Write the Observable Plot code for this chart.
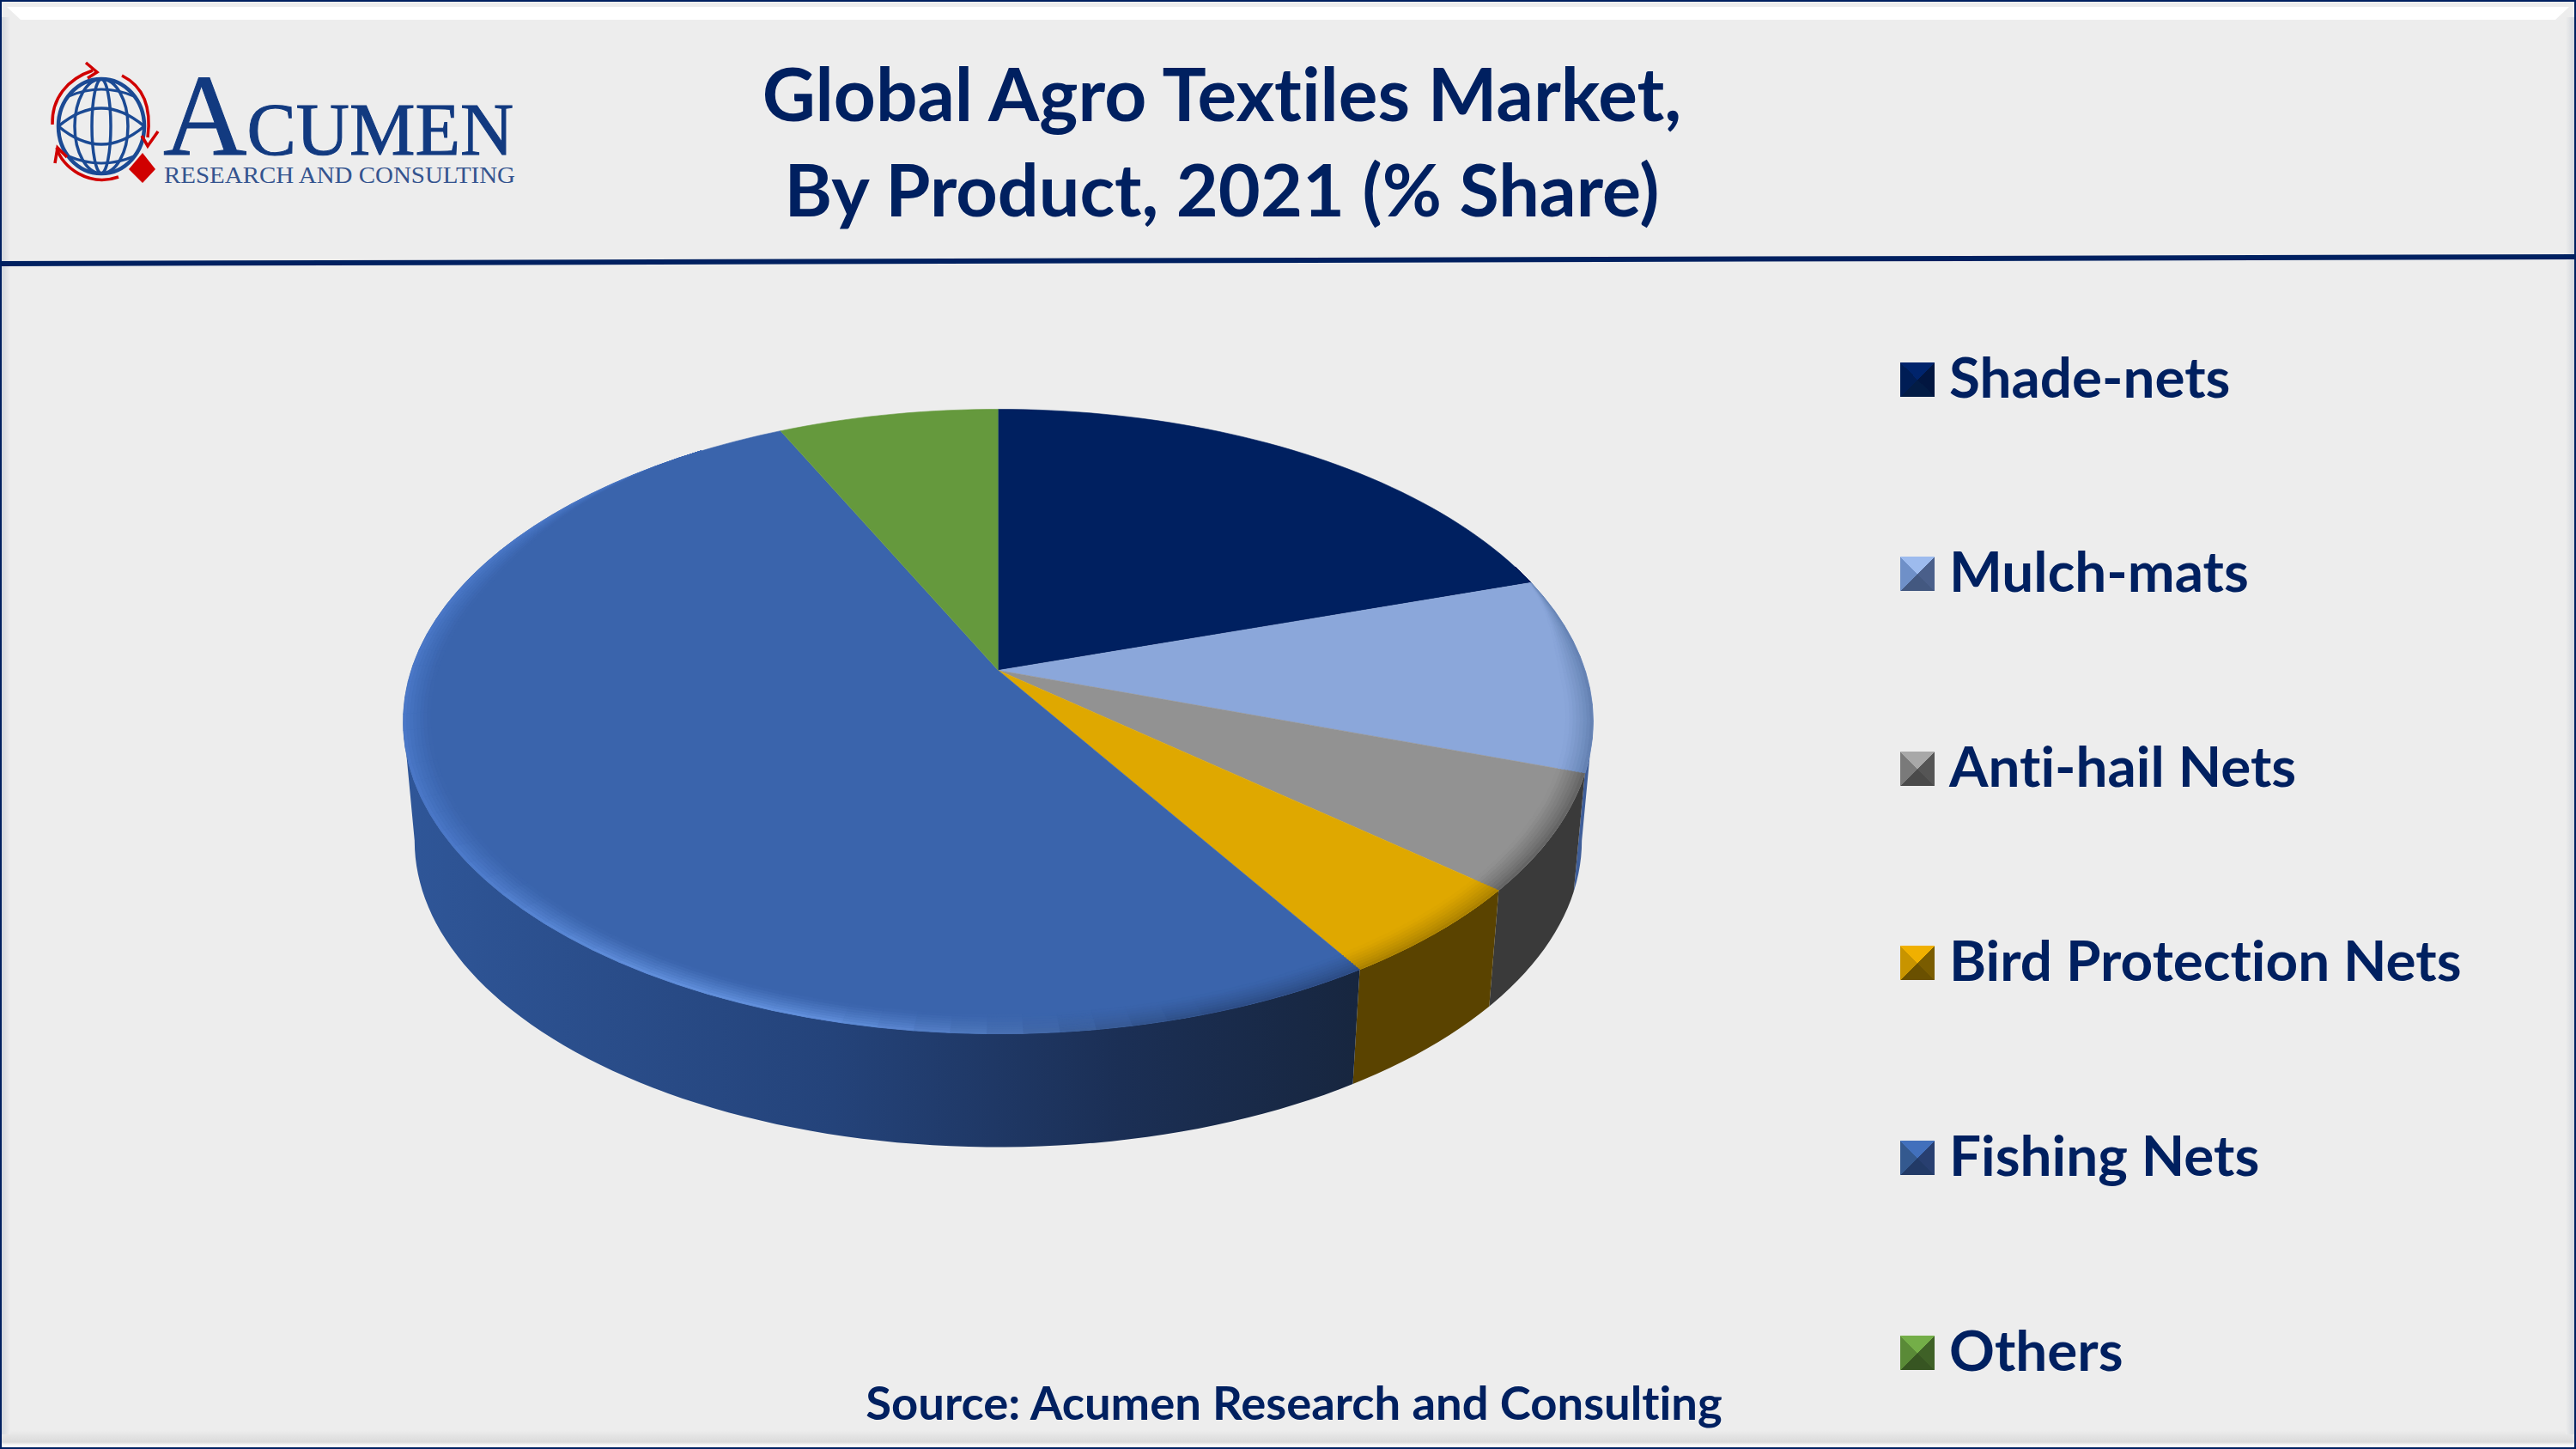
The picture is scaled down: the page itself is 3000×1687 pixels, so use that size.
<!DOCTYPE html>
<html><head><meta charset="utf-8">
<script src="https://cdn.jsdelivr.net/npm/d3@7"></script>
<script src="https://cdn.jsdelivr.net/npm/@observablehq/plot@0.6"></script>
<style>
html,body{margin:0;padding:0;background:#EDEDED;}
#page{position:relative;width:3000px;height:1687px;overflow:hidden;background:#EDEDED;font-family:Lato,sans-serif;color:#002060;font-weight:700;font-variant-ligatures:none;}
#page>*{position:absolute;}
.title{left:823px;width:1200px;text-align:center;font-size:85.5px;line-height:111px;top:53px;}
.title span{font-size:84.5px;}
.source{left:907px;width:1200px;text-align:center;font-size:54.4px;top:1599px;white-space:nowrap;}
.lg{left:2270px;font-size:65.6px;line-height:80px;white-space:nowrap;}
.sw{left:2213px;width:40px;height:40px;box-sizing:border-box;}
</style></head><body><div id="page">
<svg id="chrome" width="3000" height="1687" style="left:0;top:0">
<defs>
<linearGradient id="bot" x1="0" x2="0" y1="0" y2="1"><stop offset="0" stop-color="#EDEDED"/><stop offset=".7" stop-color="#DADADA"/><stop offset=".85" stop-color="#F5F5F5"/><stop offset="1" stop-color="#FFFFFF"/></linearGradient>
<linearGradient id="lft" x1="0" x2="1" y1="0" y2="0"><stop offset="0" stop-color="#D2D6DC"/><stop offset="1" stop-color="#EDEDED"/></linearGradient>
<linearGradient id="rgt" x1="1" x2="0" y1="0" y2="0"><stop offset="0" stop-color="#D2D6DC"/><stop offset="1" stop-color="#EDEDED"/></linearGradient>
</defs>
<polygon points="8,8 2992,8 2976,23 24,23" fill="#FFFFFF"/>
<rect x="0" y="1665" width="3000" height="20" fill="url(#bot)"/>
<rect x="2" y="20" width="10" height="1650" fill="url(#lft)"/>
<rect x="2988" y="20" width="10" height="1650" fill="url(#rgt)"/>
<rect x="1" y="1" width="2998" height="1685" fill="none" stroke="#002060" stroke-width="2"/>
<line x1="0" y1="307" x2="3000" y2="299" stroke="#002060" stroke-width="6"/>
<g fill="none" stroke="#1B4A94">
<ellipse cx="118" cy="147" rx="50" ry="55" stroke-width="4.5"/>
<ellipse cx="118" cy="147" rx="31" ry="55" stroke-width="3.5"/>
<ellipse cx="118" cy="147" rx="11" ry="55" stroke-width="3.5"/>
<path d="M68 147Q118 105 168 147M68 147Q118 189 168 147" stroke-width="3.5"/>
<path d="M80 112Q118 96 156 112M80 182Q118 198 156 182" stroke-width="3"/>
</g>
<g fill="none" stroke="#D00000" stroke-width="3.5">
<path d="M61 145C60 115 78 92 108 82"/><path d="M100 73L113 84L102 91"/>
<path d="M142 88C170 102 176 130 172 160"/><path d="M184 153L172 170L165 158"/>
<path d="M66 172C72 195 104 218 138 206"/><path d="M64 190L67 172L78 183"/>
</g>
<polygon points="166,178 181,197 166,213 150,197" fill="#D00000"/>
<g font-family="'Liberation Serif',serif" fill="#123A80" font-weight="400">
<text x="190" y="180" stroke="#123A80" stroke-width="1"><tspan font-size="135">A</tspan><tspan font-size="86">CUMEN</tspan></text>
<text x="191" y="213" font-size="27" fill="#34548F" textLength="409" lengthAdjust="spacingAndGlyphs">RESEARCH AND CONSULTING</text>
</g>
</svg>
<div class="title">Global Agro Textiles Market,<br><span>By Product, 2021 (% Share)</span></div>
<div class="source">Source: Acumen Research and Consulting</div>
</div>
<script>
// ---- chart values (percent share) ----
const categories = ["Shade-nets","Mulch-mats","Anti-hail Nets","Bird Protection Nets","Fishing Nets","Others"];
const shares     = [20.1, 10.1, 6.0, 4.9, 51.9, 7.0];
const faceColors = ["#002060","#8BA7DA","#929292","#DFA800","#3A64AC","#65993D"];
const sideColors = ["#001440","#3F5E99","#3A3A3A","#5A4300","url(#fishSide)","#3E5F26"];
const rimColors  = ["#002060","#5F7DAD","#5E5E5E","#A57D00","#2B4A80","#65993D"];
const swatchTop  = ["#00246C","#9DBBEE","#A8A8A8","#F0B000","#4270BC","#74AE48"];
const swatchLeft = ["#001D55","#6F90C8","#7A7A7A","#C89400","#34598F","#5A8A37"];
const swatchRight= ["#021640","#4A5F8A","#555555","#7A5C00","#283F70","#3F6127"];
const swatchBot  = ["#031C45","#435880","#4A4A4A","#6A5000","#223A66","#375522"];
const legendMid  = [442,668,895,1121,1348,1575];

// ---- projection of the tilted disc ----
const cx = 1162, ay = 780, A = 683.5, B = 353.8, k = 0.1637;
const sBottom = 0.981, ayBottom = 920;
const rad = a => a * Math.PI / 180;
function topPt(t, r = 1) {
  const x = r * Math.sin(rad(t)), y = -r * Math.cos(rad(t));
  const d = 1 - k * y;
  return [cx + A * x / d, ay + B * y / d];
}
function botPt(t) {
  const [X, Y] = topPt(t);
  return [cx + (X - cx) * sBottom, ayBottom + (Y - ay) * sBottom];
}
const total = d3.sum(shares);
let acc = 0;
const slices = categories.map((c, i) => {
  const t0 = acc / total * 360; acc += shares[i];
  return {c, i, t0, t1: acc / total * 360};
});
function range(a, b, step = 1.5) {
  const out = d3.range(a, b, step); out.push(b); return out;
}
const smooth = (a, b, x) => { const u = Math.max(0, Math.min(1, (x - a) / (b - a))); return u * u * (3 - 2 * u); };

// side walls (visible arc only)
const tanA = 99.4, tanB = 260.6;
const sidePts = [];
slices.forEach(s => {
  const a = Math.max(s.t0, tanA), b = Math.min(s.t1, tanB);
  if (a >= b) return;
  const ts = range(a, b);
  ts.forEach(t => { const p = topPt(t); sidePts.push({x: p[0], y: p[1], i: s.i}); });
  ts.slice().reverse().forEach(t => { const p = botPt(t); sidePts.push({x: p[0], y: p[1], i: s.i}); });
});

// faces
const facePts = [];
slices.forEach(s => {
  facePts.push({x: cx, y: ay, id: s.i, fill: faceColors[s.i]});
  range(s.t0, s.t1).forEach(t => { const p = topPt(t); facePts.push({x: p[0], y: p[1], id: s.i, fill: faceColors[s.i]}); });
});

// soft bevel near the rim
const bandWidth = t => 0.045 * smooth(68, 92, t) * (1 - smooth(285, 325, t));
function rimColor(s, t) {
  if (s.i !== 4) return rimColors[s.i];
  const dark = rimColors[4], bright = "#6695E2", mid = "#4C7ACB";
  if (t < 200) return d3.interpolateRgb(dark, bright)(smooth(160, 198, t));
  return d3.interpolateRgb(bright, mid)(smooth(205, 245, t));
}
const bevelPts = []; const N = 8; let bevelId = 0;
slices.forEach(s => {
  range(s.t0, s.t1, 3).forEach((t, n, arr) => {
    if (n === arr.length - 1) return;
    const t2 = arr[n + 1];
    if (bandWidth((t + t2) / 2) <= 0) return;
    for (let j = 0; j < N; j++) {
      const f = d3.color(d3.interpolateRgb(rimColor(s, (t + t2) / 2), faceColors[s.i])(Math.pow((j + .5) / N, 0.75))).formatHex();
      const r = (tt, q) => 1 - bandWidth(tt) * q;
      const id = bevelId++;
      [[t, j / N], [t2, j / N], [t2, (j + 1) / N], [t, (j + 1) / N]].forEach(([tt, q]) => {
        const p = topPt(tt, r(tt, q));
        bevelPts.push({x: p[0], y: p[1], id, fill: f});
      });
    }
  });
});

// gradient for the long Fishing Nets wall
function gradientDefs() {
  const ns = "http://www.w3.org/2000/svg";
  const defs = document.createElementNS(ns, "defs");
  const g = document.createElementNS(ns, "linearGradient");
  g.setAttribute("id", "fishSide");
  [[0, "#2F5698"], [0.45, "#24437A"], [0.75, "#1B2F55"], [1, "#17263F"]].forEach(([o, c]) => {
    const st = document.createElementNS(ns, "stop");
    st.setAttribute("offset", o); st.setAttribute("stop-color", c); g.appendChild(st);
  });
  defs.appendChild(g);
  return defs;
}

const chart = Plot.plot({
  width: 3000, height: 1687, margin: 0,
  style: {background: "transparent", position: "absolute", left: 0, top: 0},
  x: {domain: [0, 3000], axis: null},
  y: {domain: [0, 1687], reverse: true, axis: null},
  marks: [
    gradientDefs,
    ...slices.map(s => Plot.line(sidePts.filter(d => d.i === s.i), {x: "x", y: "y", fill: sideColors[s.i], stroke: null})),
    Plot.line(facePts, {x: "x", y: "y", z: "id", fill: "fill", stroke: "fill", strokeWidth: 0.6}),
    Plot.line(bevelPts, {x: "x", y: "y", z: "id", fill: "fill", stroke: "fill", strokeWidth: 0.8}),
  ]
});
const page = document.getElementById("page");
page.appendChild(chart);

// legend
categories.forEach((c, i) => {
  const sw = document.createElement("div");
  sw.className = "sw";
  sw.style.top = (legendMid[i] - 20) + "px";
  sw.style.background = `conic-gradient(from -45deg, ${swatchTop[i]} 0 25%, ${swatchRight[i]} 25% 50%, ${swatchBot[i]} 50% 75%, ${swatchLeft[i]} 75% 100%)`;
  page.appendChild(sw);
  const t = document.createElement("div");
  t.className = "lg";
  t.textContent = c;
  t.style.top = (legendMid[i] - 44) + "px";
  page.appendChild(t);
});
</script>
</body></html>
